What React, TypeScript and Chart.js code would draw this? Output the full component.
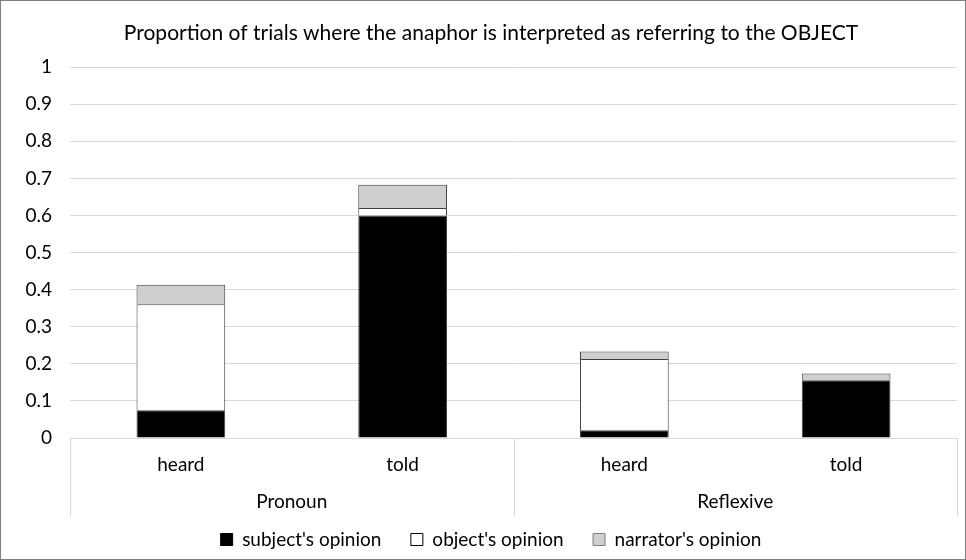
import React, { useEffect, useRef } from "react";
import { Chart, registerables } from "chart.js";

Chart.register(...registerables);

const categories = ["heard", "told", "heard", "told"];
const groupLabels = ["Pronoun", "Reflexive"];
const groupSizes = [2, 2];
const subjectOpinion = [0.075, 0.6, 0.021, 0.156];
const objectOpinion = [0.286, 0.02, 0.192, 0.0];
const narratorOpinion = [0.052, 0.063, 0.02, 0.018];
const yTicks = [0, 0.1, 0.2, 0.3, 0.4, 0.5, 0.6, 0.7, 0.8, 0.9, 1];
const titleText = "Proportion of trials where the anaphor is interpreted as referring to the OBJECT";

const FONT = "Lato";

const groupPlugin = {
  id: "groupLabels",
  afterDraw(chart: any) {
    const x = chart.scales.x;
    const ctx = chart.ctx;
    const area = chart.chartArea;
    const step = (x.right - x.left) / categories.length;
    const top = area.bottom;
    const bottom = area.bottom + 78;
    ctx.save();
    ctx.strokeStyle = "#d9d9d9";
    ctx.lineWidth = 1;
    let idx = 0;
    const bounds: number[] = [];
    bounds.push(x.getPixelForValue(0) - step / 2);
    groupSizes.forEach((n) => {
      idx += n;
      bounds.push(x.getPixelForValue(idx - 1) + step / 2);
    });
    bounds.forEach((b) => {
      const px = Math.round(b) + 0.5;
      ctx.beginPath();
      ctx.moveTo(px, top);
      ctx.lineTo(px, bottom);
      ctx.stroke();
    });
    ctx.fillStyle = "#000";
    ctx.font = `19px ${FONT}`;
    ctx.textAlign = "center";
    ctx.textBaseline = "middle";
    groupLabels.forEach((g, i) => {
      const c = (bounds[i] + bounds[i + 1]) / 2;
      ctx.fillText(g, c, area.bottom + 64);
    });
    ctx.restore();
  },
};

export default function App() {
  const ref = useRef<HTMLCanvasElement>(null);
  useEffect(() => {
    document.body.style.margin = "0";
    const chart = new Chart(ref.current!, {
      type: "bar",
      data: {
        labels: categories,
        datasets: [
          {
            label: "subject's opinion",
            data: subjectOpinion,
            backgroundColor: "#000000",
            borderColor: "#404040",
            borderWidth: 1,
            barPercentage: 0.4,
            categoryPercentage: 1,
          },
          {
            label: "object's opinion",
            data: objectOpinion,
            backgroundColor: "#ffffff",
            borderColor: "#404040",
            borderWidth: 1,
            barPercentage: 0.4,
            categoryPercentage: 1,
          },
          {
            label: "narrator's opinion",
            data: narratorOpinion,
            backgroundColor: "#d0cece",
            borderColor: "#404040",
            borderWidth: 1,
            barPercentage: 0.4,
            categoryPercentage: 1,
          },
        ],
      },
      options: {
        animation: false,
        responsive: false,
        maintainAspectRatio: false,
        layout: { padding: { left: 24, right: 8, top: 0, bottom: 0 } },
        plugins: {
          title: {
            display: true,
            text: titleText,
            color: "#000",
            font: { family: FONT, size: 21, weight: "normal" },
            padding: { top: 20, bottom: 21 },
          },
          legend: {
            display: true,
            position: "bottom",
            labels: {
              color: "#000",
              font: { family: FONT, size: 19 },
              boxWidth: 12,
              boxHeight: 12,
              padding: 10,
              generateLabels: (chart: any) =>
                chart.data.datasets.map((ds: any, i: number, arr: any[]) => ({
                  text: i < arr.length - 1 ? ds.label + "    " : ds.label,
                  fillStyle: ds.backgroundColor,
                  strokeStyle: i === 2 ? "#7f7f7f" : "#000",
                  lineWidth: 1,
                  hidden: false,
                  datasetIndex: i,
                  fontColor: "#000",
                })),
            },
          },
          tooltip: { enabled: false },
        },
        scales: {
          x: {
            stacked: true,
            grid: { display: false },
            border: { display: true, color: "#d9d9d9" },
            ticks: {
              color: "#000",
              font: { family: FONT, size: 19 },
              padding: 7,
            },
            afterFit: (s: any) => {
              s.height = 82;
            },
          },
          y: {
            stacked: true,
            min: 0,
            max: 1,
            grid: { color: "#d9d9d9", drawTicks: false },
            border: { display: false },
            afterBuildTicks: (s: any) => {
              s.ticks = yTicks.map((v) => ({ value: v }));
            },
            ticks: {
              color: "#000",
              font: { family: FONT, size: 19 },
              padding: 18,
              callback: (v: any) => String(Math.round(Number(v) * 10) / 10),
            },
            afterFit: (s: any) => {
              s.width = 45;
            },
          },
        },
      },
      plugins: [groupPlugin],
    } as any);
    return () => chart.destroy();
  }, []);
  return (
    <div style={{ width: 964, height: 558, border: "1px solid #7f7f7f" }}>
      <canvas ref={ref} width={964} height={558} style={{ display: "block" }} />
    </div>
  );
}
